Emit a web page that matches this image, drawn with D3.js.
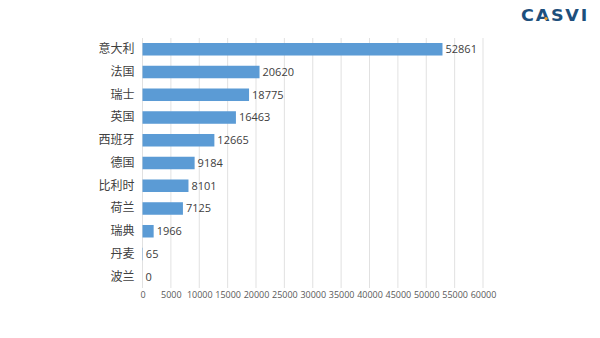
<!DOCTYPE html>
<html><head><meta charset="utf-8">
<script src="https://cdn.jsdelivr.net/npm/d3@7"></script>
<style>body{margin:0;background:#fff;}svg{display:block;}</style>
</head><body>
<svg id="c" width="600" height="338"></svg>
<script>
const categories = ["意大利","法国","瑞士","英国","西班牙","德国","比利时","荷兰","瑞典","丹麦","波兰"];
const values = [52861,20620,18775,16463,12665,9184,8101,7125,1966,65,0];
const ticks = [0,5000,10000,15000,20000,25000,30000,35000,40000,45000,50000,55000,60000];

const svg = d3.select("#c");
const x = d3.scaleLinear().domain([0,60000]).range([142.5,483]);
const y = d3.scaleBand().domain(categories).range([38,288]).paddingInner(0.45).paddingOuter(0.22);

// gridlines
svg.append("g").selectAll("line").data(ticks).join("line")
  .attr("x1",d=>x(d)).attr("x2",d=>x(d)).attr("y1",38).attr("y2",288)
  .attr("stroke","#d9d9d9").attr("stroke-width",0.8);

// x axis labels
const xa = d3.axisBottom(x).tickValues(ticks).tickSize(0).tickPadding(0).tickFormat(d3.format("d"));
const gx = svg.append("g").attr("transform","translate(0,292)").call(xa);
gx.select(".domain").remove();
gx.selectAll("text").attr("fill","#595959").attr("font-size","9px").attr("font-family","'Open Sans', 'Noto Sans', sans-serif");

// y axis labels
const ya = d3.axisLeft(y).tickSize(0).tickPadding(8);
const gy = svg.append("g").attr("transform","translate(142.5,0)").call(ya);
gy.select(".domain").remove();
gy.selectAll("text").attr("fill","#404040").attr("font-size","12px").attr("font-family","'Noto Sans CJK SC', sans-serif");

// bars
svg.append("g").selectAll("rect").data(values).join("rect")
  .attr("x",x(0)).attr("y",(d,i)=>y(categories[i]))
  .attr("width",d=>x(d)-x(0)).attr("height",y.bandwidth())
  .attr("fill","#5b9bd5");

// value labels
svg.append("g").selectAll("text").data(values).join("text")
  .attr("x",d=>x(d)+3).attr("y",(d,i)=>y(categories[i])+y.bandwidth()/2)
  .attr("dy","0.36em").attr("fill","#404040").attr("font-size","11px")
  .attr("font-family","'Open Sans', 'Noto Sans', sans-serif")
  .text(d=>d);

// logo
const logo = svg.append("g");
logo.append("text").attr("x",521).attr("y",21).attr("font-size","15px").attr("font-weight","600")
  .attr("font-family","'DejaVu Sans', sans-serif").attr("letter-spacing","1.5px")
  .attr("fill","#1d4f7c").attr("textLength",68).attr("lengthAdjust","spacingAndGlyphs").text("CASVI");
logo.append("circle").attr("cx",546).attr("cy",18.5).attr("r",1.6).attr("fill","#f0a030");
</script>
</body></html>
